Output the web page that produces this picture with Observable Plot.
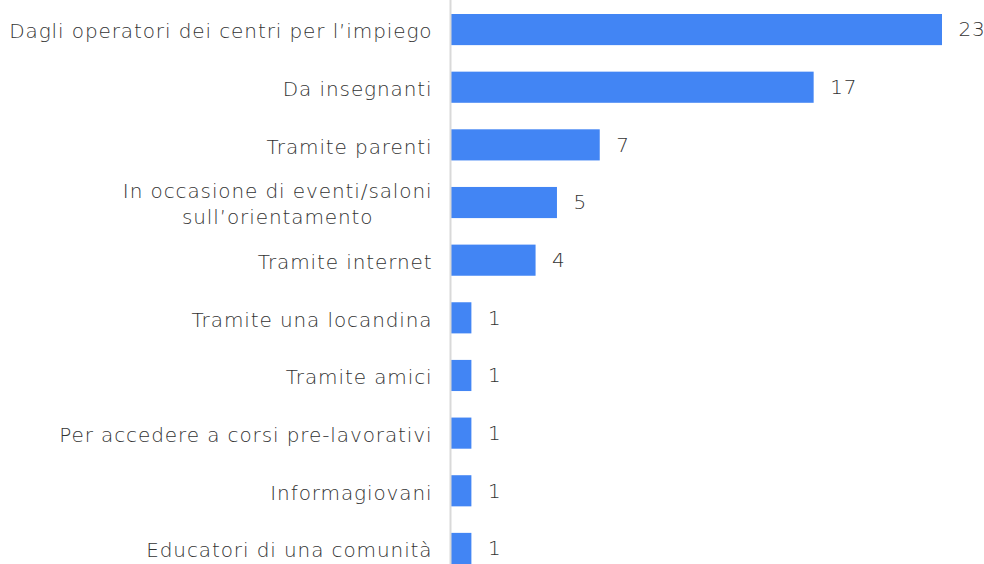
<!DOCTYPE html>
<html>
<head>
<meta charset="utf-8">
<script src="https://cdn.jsdelivr.net/npm/d3@7"></script>
<script src="https://cdn.jsdelivr.net/npm/@observablehq/plot@0.6"></script>
<style>
  html, body { margin: 0; padding: 0; background: #fff; }
  #chart svg { overflow: visible; }
  #chart svg text { letter-spacing: 0.9px; }
</style>
</head>
<body>
<div id="chart"></div>
<script>
const categories = [
  "Dagli operatori dei centri per l\u2019impiego",
  "Da insegnanti",
  "Tramite parenti",
  "In occasione di eventi/saloni\nsull\u2019orientamento",
  "Tramite internet",
  "Tramite una locandina",
  "Tramite amici",
  "Per accedere a corsi pre-lavorativi",
  "Informagiovani",
  "Educatori di una comunità"
];
const values = [23, 17, 7, 5, 4, 1, 1, 1, 1, 1];

const data = categories.map((c, i) => ({category: c, value: values[i]}));

const chart = Plot.plot({
  width: 984,
  height: 564,
  marginLeft: 450,
  marginRight: 42,
  marginTop: 14,
  marginBottom: 0,
  style: {fontFamily: "'DejaVu Sans', sans-serif", fontWeight: 200, fontSize: "20px", color: "#333333", background: "#fff"},
  x: {domain: [0, 23], axis: null},
  y: {domain: categories, paddingInner: 0.46, paddingOuter: 0, round: false, label: null, tickSize: 0, tickPadding: 18},
  marks: [
    Plot.barX(data, {x: "value", y: "category", fill: "#4285F4", insetLeft: 1}),
    Plot.ruleX([0], {stroke: "#d9d9d9", strokeWidth: 2, insetTop: -14}),
    Plot.text(data, {x: "value", y: "category", text: d => String(d.value), textAnchor: "start", dx: 16, fill: "#333333", fontSize: 20, fontWeight: 200}),
    Plot.axisY({tickSize: 0, tickPadding: 18, fontSize: 20, fill: "#333333", lineHeight: 1.3, label: null})
  ]
});
document.getElementById("chart").append(chart);

// centre the lines of multi-line tick labels within their block (right-aligned block)
chart.querySelectorAll("text").forEach(t => {
  const spans = t.querySelectorAll("tspan");
  if (spans.length > 1) {
    const widths = Array.from(spans, s => s.getComputedTextLength());
    const maxW = Math.max(...widths);
    t.setAttribute("text-anchor", "middle");
    spans.forEach(s => {
      const x0 = +(s.getAttribute("x") || 0);
      s.setAttribute("x", x0 - maxW / 2);
    });
  }
});
</script>
</body>
</html>
